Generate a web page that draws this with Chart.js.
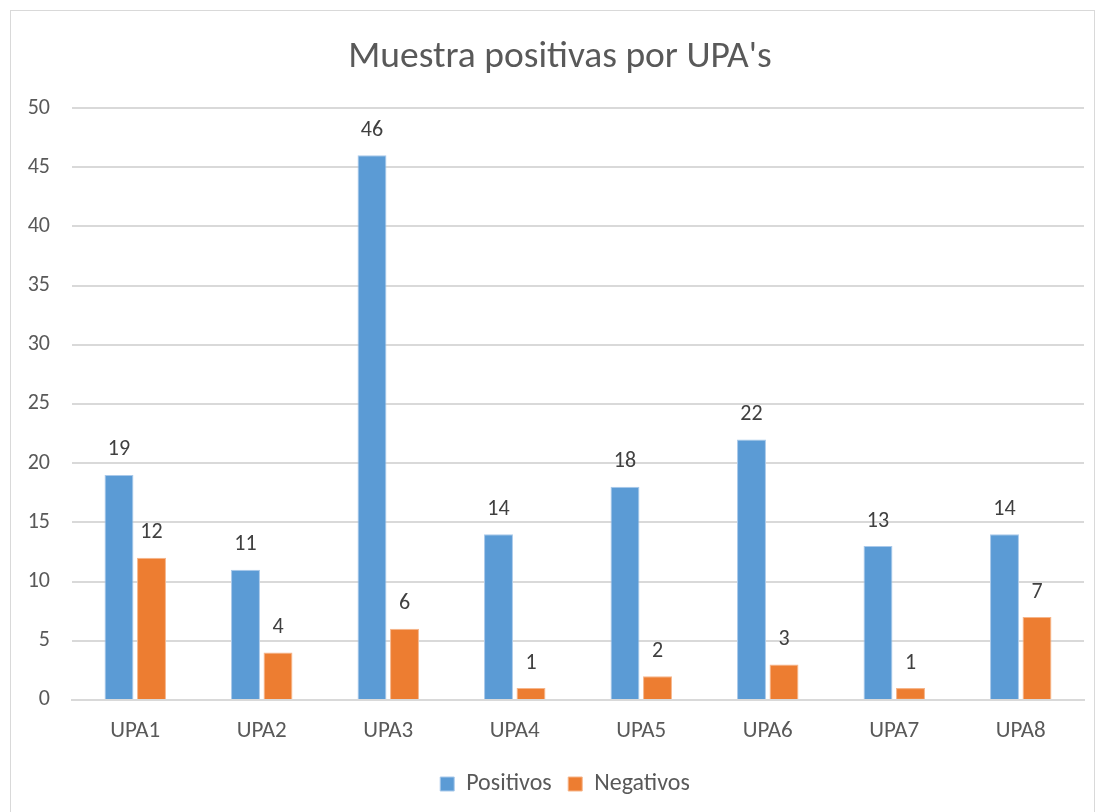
<!DOCTYPE html>
<html>
<head>
<meta charset="utf-8">
<script src="https://cdn.jsdelivr.net/npm/chart.js@4.4.1/dist/chart.umd.min.js"></script>
<style>
html,body{margin:0;padding:0;background:#fff;}
#wrap{position:relative;width:1098px;height:812px;overflow:hidden;}
#frame{position:absolute;left:10px;top:10px;width:1085px;height:820px;border:1px solid #d9d9d9;box-sizing:border-box;}
canvas{position:absolute;left:0;top:0;}
</style>
</head>
<body>
<div id="wrap">
<div id="frame"></div>
<canvas id="c" width="1098" height="812"></canvas>
</div>
<script>
const categories = ["UPA1","UPA2","UPA3","UPA4","UPA5","UPA6","UPA7","UPA8"];
const positivos = [19, 11, 46, 14, 18, 22, 13, 14];
const negativos = [12, 4, 6, 1, 2, 3, 1, 7];
const seriesNames = ["Positivos", "Negativos"];
const chartTitle = "Muestra positivas por UPA's";

const FONT = "Carlito, Lato, 'Liberation Sans', sans-serif";
const TEXT = "#595959";

const labelPlugin = {
  id: 'barLabels',
  afterLayout(chart) {
    if (chart.legend) { chart.legend.left += 23; chart.legend.right += 23; }
    if (chart.titleBlock) { chart.titleBlock.left += 18; chart.titleBlock.right += 18; }
  },
  afterDatasetsDraw(chart) {
    const ctx = chart.ctx;
    ctx.save();
    ctx.font = "22px " + FONT;
    ctx.fillStyle = "#404040";
    ctx.textAlign = "center";
    ctx.textBaseline = "middle";
    chart.data.datasets.forEach((ds, i) => {
      const meta = chart.getDatasetMeta(i);
      meta.data.forEach((bar, j) => {
        ctx.fillText(String(ds.data[j]), bar.x, bar.y - 25);
      });
    });
    ctx.restore();
  }
};

new Chart(document.getElementById('c'), {
  type: 'bar',
  data: {
    labels: categories,
    datasets: [
      { label: seriesNames[0], data: positivos, backgroundColor: "#5B9BD5", borderColor: "#a9c9ea", borderWidth: 1 },
      { label: seriesNames[1], data: negativos, backgroundColor: "#ED7D31", borderColor: "#f6b58a", borderWidth: 1 }
    ]
  },
  options: {
    responsive: false,
    animation: false,
    devicePixelRatio: 1,
    datasets: { bar: { categoryPercentage: 0.514, barPercentage: 0.89 } },
    layout: { padding: { left: 0, right: 14, top: 35, bottom: 6 } },
    plugins: {
      title: {
        display: true,
        text: chartTitle,
        color: TEXT,
        font: { family: FONT, size: 37.5, weight: 'normal' },
        padding: { top: 0, bottom: 28 }
      },
      legend: {
        position: 'bottom',
        labels: {
          color: TEXT,
          font: { family: FONT, size: 24 },
          boxWidth: 14,
          boxHeight: 14,
          padding: 16.5
        }
      },
      tooltip: { enabled: false }
    },
    scales: {
      x: {
        grid: { display: false },
        border: { color: "#d9d9d9", width: 2 },
        ticks: { color: TEXT, font: { family: FONT, size: 23 }, padding: 10 }
      },
      y: {
        min: 0, max: 50,
        ticks: { stepSize: 5, color: TEXT, font: { family: FONT, size: 22 }, padding: 22 },
        grid: { color: "#d9d9d9", lineWidth: 2, drawTicks: false },
        border: { display: false },
        afterFit(scale) { scale.width = 72; }
      }
    }
  },
  plugins: [labelPlugin]
});
</script>
</body>
</html>
